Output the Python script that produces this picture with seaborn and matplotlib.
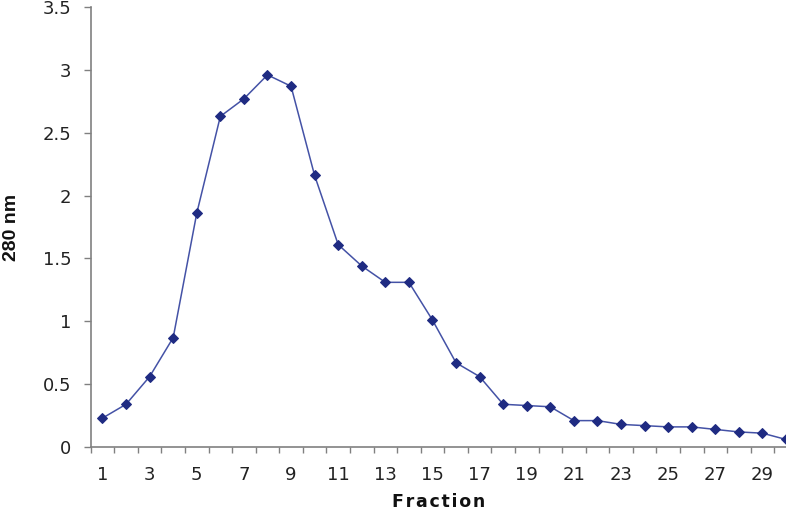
import pandas as pd
import seaborn as sns
import matplotlib.pyplot as plt
from matplotlib.ticker import FixedLocator, FuncFormatter

fractions = list(range(1, 31))
absorbance = [0.23, 0.34, 0.56, 0.87, 1.86, 2.63, 2.77, 2.96, 2.87, 2.16,
              1.61, 1.44, 1.31, 1.31, 1.01, 0.67, 0.56, 0.34, 0.33, 0.32,
              0.21, 0.21, 0.18, 0.17, 0.16, 0.16, 0.14, 0.12, 0.11, 0.06]
odd_labels = list(range(1, 30, 2))
y_ticks = [0, 0.5, 1, 1.5, 2, 2.5, 3, 3.5]

df = pd.DataFrame({"Fraction": fractions, "A280": absorbance})

sns.set_style("white")
plt.rcParams['font.family'] = ['DejaVu Sans']

fig = plt.figure(figsize=(7.86, 5.16), dpi=100)
ax = fig.add_axes([0.1154, 0.1337, 0.8846, 0.8527])

sns.lineplot(data=df, x="Fraction", y="A280", ax=ax, color="#4452a6",
             linewidth=1.1, marker="D", markersize=5,
             markerfacecolor="#1f2b82", markeredgecolor="#1f2b82")

ax.set_xlim(0.5, 30.0)
ax.set_ylim(0, 3.5)
ax.yaxis.set_major_locator(FixedLocator(y_ticks))
ax.yaxis.set_major_formatter(FuncFormatter(lambda v, p: f"{v:g}"))

# labels on odd fractions, tick marks between categories
ax.xaxis.set_major_locator(FixedLocator(odd_labels))
ax.xaxis.set_minor_locator(FixedLocator([i + 0.5 for i in range(0, 30)]))
ax.tick_params(axis="x", which="major", length=0, pad=14, labelsize=13, colors="#222222")
ax.tick_params(axis="x", which="minor", length=4, width=1, color="#808080", direction="out")
ax.tick_params(axis="y", length=5, width=1, color="#808080", direction="out", pad=9,
               labelsize=13, labelcolor="#222222")
ax.tick_params(bottom=True, left=True, which="both")

for s in ["top", "right"]:
    ax.spines[s].set_visible(False)
for s in ["left", "bottom"]:
    ax.spines[s].set_color("#808080")
    ax.spines[s].set_linewidth(1.2)

ax.set_xlabel("F r a c t i o n".replace(" ", "\u200a"), fontsize=12.5, fontweight="bold",
              labelpad=6, color="#111111")
ax.set_ylabel("280 nm", family="Liberation Sans", fontsize=14, fontweight="bold",
              labelpad=16, color="#111111")

fig.savefig("out.png", dpi=100)
